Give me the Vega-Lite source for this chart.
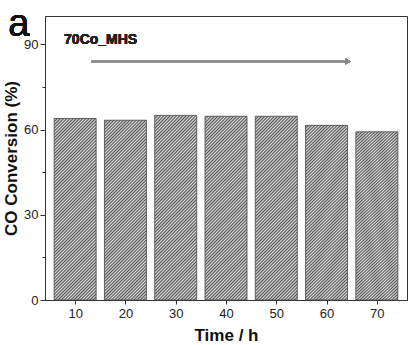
{
  "$schema": "https://vega.github.io/schema/vega-lite/v6.json",
  "width": 362,
  "height": 284,
  "autosize": "none",
  "padding": {"left": 45, "top": 16, "right": 1, "bottom": 45},
  "config": {
    "font": "Liberation Sans",
    "view": {"stroke": "#333333", "strokeWidth": 1},
    "axis": {"domainColor": "#333333", "tickColor": "#333333", "labelColor": "#222222", "titleColor": "#111111", "grid": false, "labelFont": "Liberation Sans", "titleFont": "Liberation Sans"}
  },
  "data": {"values": [
    {"time": 10, "conversion": 63.9},
    {"time": 20, "conversion": 63.3},
    {"time": 30, "conversion": 65.0},
    {"time": 40, "conversion": 64.7},
    {"time": 50, "conversion": 64.7},
    {"time": 60, "conversion": 61.5},
    {"time": 70, "conversion": 59.2}
  ]},
  "layer": [
    {
      "mark": {
        "type": "bar",
        "width": 42,
        "stroke": "#444444",
        "strokeWidth": 0.8,
        "fill": {
          "gradient": "linear",
          "x1": 0, "y1": 0, "x2": 0.272, "y2": 1.17,
          "stops": [
            {"offset": 0, "color": "#555555"}, {"offset": 0.0071, "color": "#dddddd"}, {"offset": 0.0143, "color": "#555555"}, {"offset": 0.0214, "color": "#dddddd"}, {"offset": 0.0286, "color": "#555555"}, {"offset": 0.0357, "color": "#dddddd"}, {"offset": 0.0429, "color": "#555555"}, {"offset": 0.05, "color": "#dddddd"}, {"offset": 0.0571, "color": "#555555"}, {"offset": 0.0643, "color": "#dddddd"}, {"offset": 0.0714, "color": "#555555"}, {"offset": 0.0786, "color": "#dddddd"}, {"offset": 0.0857, "color": "#555555"}, {"offset": 0.0929, "color": "#dddddd"},
            {"offset": 0.1, "color": "#555555"}, {"offset": 0.1071, "color": "#dddddd"}, {"offset": 0.1143, "color": "#555555"}, {"offset": 0.1214, "color": "#dddddd"}, {"offset": 0.1286, "color": "#555555"}, {"offset": 0.1357, "color": "#dddddd"}, {"offset": 0.1429, "color": "#555555"}, {"offset": 0.15, "color": "#dddddd"}, {"offset": 0.1571, "color": "#555555"}, {"offset": 0.1643, "color": "#dddddd"}, {"offset": 0.1714, "color": "#555555"}, {"offset": 0.1786, "color": "#dddddd"}, {"offset": 0.1857, "color": "#555555"}, {"offset": 0.1929, "color": "#dddddd"},
            {"offset": 0.2, "color": "#555555"}, {"offset": 0.2071, "color": "#dddddd"}, {"offset": 0.2143, "color": "#555555"}, {"offset": 0.2214, "color": "#dddddd"}, {"offset": 0.2286, "color": "#555555"}, {"offset": 0.2357, "color": "#dddddd"}, {"offset": 0.2429, "color": "#555555"}, {"offset": 0.25, "color": "#dddddd"}, {"offset": 0.2571, "color": "#555555"}, {"offset": 0.2643, "color": "#dddddd"}, {"offset": 0.2714, "color": "#555555"}, {"offset": 0.2786, "color": "#dddddd"}, {"offset": 0.2857, "color": "#555555"}, {"offset": 0.2929, "color": "#dddddd"},
            {"offset": 0.3, "color": "#555555"}, {"offset": 0.3071, "color": "#dddddd"}, {"offset": 0.3143, "color": "#555555"}, {"offset": 0.3214, "color": "#dddddd"}, {"offset": 0.3286, "color": "#555555"}, {"offset": 0.3357, "color": "#dddddd"}, {"offset": 0.3429, "color": "#555555"}, {"offset": 0.35, "color": "#dddddd"}, {"offset": 0.3571, "color": "#555555"}, {"offset": 0.3643, "color": "#dddddd"}, {"offset": 0.3714, "color": "#555555"}, {"offset": 0.3786, "color": "#dddddd"}, {"offset": 0.3857, "color": "#555555"}, {"offset": 0.3929, "color": "#dddddd"},
            {"offset": 0.4, "color": "#555555"}, {"offset": 0.4071, "color": "#dddddd"}, {"offset": 0.4143, "color": "#555555"}, {"offset": 0.4214, "color": "#dddddd"}, {"offset": 0.4286, "color": "#555555"}, {"offset": 0.4357, "color": "#dddddd"}, {"offset": 0.4429, "color": "#555555"}, {"offset": 0.45, "color": "#dddddd"}, {"offset": 0.4571, "color": "#555555"}, {"offset": 0.4643, "color": "#dddddd"}, {"offset": 0.4714, "color": "#555555"}, {"offset": 0.4786, "color": "#dddddd"}, {"offset": 0.4857, "color": "#555555"}, {"offset": 0.4929, "color": "#dddddd"},
            {"offset": 0.5, "color": "#555555"}, {"offset": 0.5071, "color": "#dddddd"}, {"offset": 0.5143, "color": "#555555"}, {"offset": 0.5214, "color": "#dddddd"}, {"offset": 0.5286, "color": "#555555"}, {"offset": 0.5357, "color": "#dddddd"}, {"offset": 0.5429, "color": "#555555"}, {"offset": 0.55, "color": "#dddddd"}, {"offset": 0.5571, "color": "#555555"}, {"offset": 0.5643, "color": "#dddddd"}, {"offset": 0.5714, "color": "#555555"}, {"offset": 0.5786, "color": "#dddddd"}, {"offset": 0.5857, "color": "#555555"}, {"offset": 0.5929, "color": "#dddddd"},
            {"offset": 0.6, "color": "#555555"}, {"offset": 0.6071, "color": "#dddddd"}, {"offset": 0.6143, "color": "#555555"}, {"offset": 0.6214, "color": "#dddddd"}, {"offset": 0.6286, "color": "#555555"}, {"offset": 0.6357, "color": "#dddddd"}, {"offset": 0.6429, "color": "#555555"}, {"offset": 0.65, "color": "#dddddd"}, {"offset": 0.6571, "color": "#555555"}, {"offset": 0.6643, "color": "#dddddd"}, {"offset": 0.6714, "color": "#555555"}, {"offset": 0.6786, "color": "#dddddd"}, {"offset": 0.6857, "color": "#555555"}, {"offset": 0.6929, "color": "#dddddd"},
            {"offset": 0.7, "color": "#555555"}, {"offset": 0.7071, "color": "#dddddd"}, {"offset": 0.7143, "color": "#555555"}, {"offset": 0.7214, "color": "#dddddd"}, {"offset": 0.7286, "color": "#555555"}, {"offset": 0.7357, "color": "#dddddd"}, {"offset": 0.7429, "color": "#555555"}, {"offset": 0.75, "color": "#dddddd"}, {"offset": 0.7571, "color": "#555555"}, {"offset": 0.7643, "color": "#dddddd"}, {"offset": 0.7714, "color": "#555555"}, {"offset": 0.7786, "color": "#dddddd"}, {"offset": 0.7857, "color": "#555555"}, {"offset": 0.7929, "color": "#dddddd"},
            {"offset": 0.8, "color": "#555555"}, {"offset": 0.8071, "color": "#dddddd"}, {"offset": 0.8143, "color": "#555555"}, {"offset": 0.8214, "color": "#dddddd"}, {"offset": 0.8286, "color": "#555555"}, {"offset": 0.8357, "color": "#dddddd"}, {"offset": 0.8429, "color": "#555555"}, {"offset": 0.85, "color": "#dddddd"}, {"offset": 0.8571, "color": "#555555"}, {"offset": 0.8643, "color": "#dddddd"}, {"offset": 0.8714, "color": "#555555"}, {"offset": 0.8786, "color": "#dddddd"}, {"offset": 0.8857, "color": "#555555"}, {"offset": 0.8929, "color": "#dddddd"},
            {"offset": 0.9, "color": "#555555"}, {"offset": 0.9071, "color": "#dddddd"}, {"offset": 0.9143, "color": "#555555"}, {"offset": 0.9214, "color": "#dddddd"}, {"offset": 0.9286, "color": "#555555"}, {"offset": 0.9357, "color": "#dddddd"}, {"offset": 0.9429, "color": "#555555"}, {"offset": 0.95, "color": "#dddddd"}, {"offset": 0.9571, "color": "#555555"}, {"offset": 0.9643, "color": "#dddddd"}, {"offset": 0.9714, "color": "#555555"}, {"offset": 0.9786, "color": "#dddddd"}, {"offset": 0.9857, "color": "#555555"}, {"offset": 0.9929, "color": "#dddddd"},
            {"offset": 1, "color": "#555555"}
          ]
        }
      },
      "encoding": {
        "x": {
          "field": "time", "type": "quantitative",
          "scale": {"domain": [5, 75], "nice": false, "zero": false},
          "axis": {
            "values": [10, 20, 30, 40, 50, 60, 70],
            "title": "Time / h",
            "titleFontSize": 17, "titleFontWeight": "bold", "titlePadding": 7,
            "labelFontSize": 13, "labelPadding": 3, "tickSize": 4,
            "labelFlush": false
          }
        },
        "y": {
          "field": "conversion", "type": "quantitative",
          "scale": {"domain": [0, 100], "nice": false},
          "axis": {
            "values": [0, 15, 30, 45, 60, 75, 90],
            "labelExpr": "datum.value % 30 === 0 ? datum.label : ''",
            "tickSize": {"condition": {"test": "datum.value % 30 === 0", "value": 5}, "value": 3},
            "title": "CO Conversion (%)",
            "titleFontSize": 17, "titleFontWeight": "bold", "titlePadding": 3,
            "labelFontSize": 13, "labelPadding": 2,
            "labelFlush": false
          }
        }
      }
    },
    {
      "mark": {"type": "rule", "color": "#888888", "strokeWidth": 1.5},
      "encoding": {
        "x": {"datum": 13.2},
        "x2": {"datum": 64},
        "y": {"datum": 84}
      }
    },
    {
      "mark": {"type": "point", "shape": "triangle-right", "filled": true, "color": "#888888", "size": 40, "opacity": 1},
      "encoding": {
        "x": {"datum": 64.3},
        "y": {"datum": 84}
      }
    },
    {
      "mark": {"type": "text", "text": "70Co_MHS", "align": "left", "baseline": "alphabetic", "fontSize": 14, "fontWeight": "bold", "color": "#222222"},
      "encoding": {
        "x": {"datum": 7.8},
        "y": {"datum": 90.1}
      }
    },
    {
      "mark": {"type": "text", "text": "a", "align": "center", "baseline": "alphabetic", "fontSize": 38, "color": "#111111"},
      "encoding": {
        "x": {"datum": -1.2},
        "y": {"datum": 92.8}
      }
    }
  ]
}
